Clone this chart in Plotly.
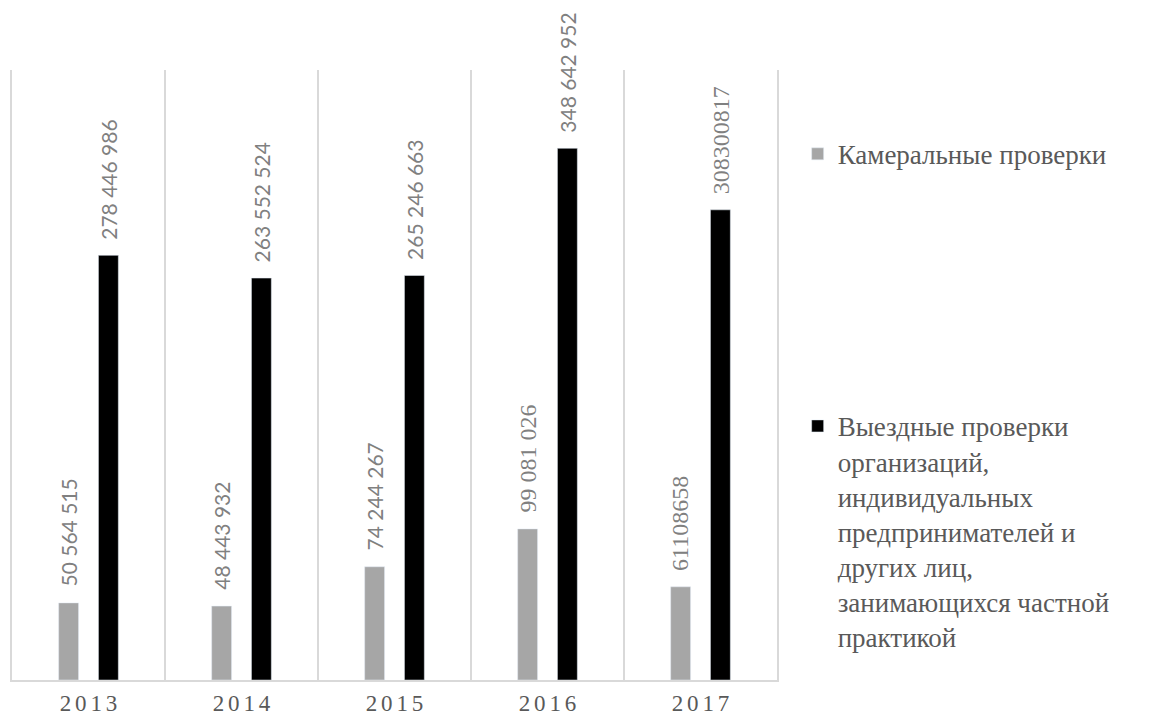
import plotly.graph_objects as go

years = ["2013", "2014", "2015", "2016", "2017"]
year_ticks = ["2\u20060\u20061\u20063", "2\u20060\u20061\u20064", "2\u20060\u20061\u20065", "2\u20060\u20061\u20066", "2\u20060\u20061\u20067"]

series1_name = "Камеральные проверки"
series1_values = [50564515, 48443932, 74244267, 99081026, 61108658]
series1_labels = ["50 564 515", "48 443 932", "74 244 267", "99 081 026", "61108658"]
series1_fonts = ["Lato", "Lato", "Lato", "Liberation Serif", "Liberation Serif"]

series2_name = ("Выездные проверки<br>организаций,<br>индивидуальных<br>предпринимателей и<br>"
                "других лиц,<br>занимающихся частной<br>практикой")
series2_values = [278446986, 263552524, 265246663, 348642952, 308300817]
series2_labels = ["278 446 986", "263 552 524", "265 246 663", "348 642 952", "308300817"]
series2_fonts = ["Lato", "Lato", "Lato", "Lato", "Liberation Serif"]

GRAY = "#A6A6A6"
BLACK = "#000000"
LABEL = "#808080"
TEXT = "#595959"
GRID = "#D9D9D9"

W = 0.13
fig = go.Figure()
fig.add_trace(go.Bar(x=years, y=series1_values, name=series1_name, marker_color=GRAY,
                     width=W, offset=-1.5 * W, legendgroup="a", hoverinfo="y"))
fig.add_trace(go.Bar(x=years, y=series2_values, name=series2_name, marker_color=BLACK,
                     width=W, offset=0.5 * W, legendgroup="b", hoverinfo="y"))

for vals, labs, fonts, dx in [(series1_values, series1_labels, series1_fonts, -W),
                              (series2_values, series2_labels, series2_fonts, W)]:
    for i, (v, t, f) in enumerate(zip(vals, labs, fonts)):
        fig.add_annotation(x=i + dx, y=v, xref="x", yref="y", text=t, showarrow=False,
                           textangle=-90, yanchor="bottom", xanchor="center", yshift=14,
                           font=dict(family=f, size=24 if f == "Liberation Serif" else 21, color=LABEL))

fig.update_layout(
    width=1154, height=712,
    margin=dict(l=4, r=385, t=62, b=40),
    paper_bgcolor="white", plot_bgcolor="white",
    barmode="overlay",
    showlegend=True,
    legend=dict(x=1.027, xanchor="left", y=0.902, yanchor="top", valign="top",
                tracegroupgap=234, traceorder="grouped",
                font=dict(family="Liberation Serif", size=27, color=TEXT),
                bgcolor="rgba(0,0,0,0)"),
    xaxis=dict(type="category", tickmode="array", tickvals=years, ticktext=year_ticks,
               tickson="boundaries", showgrid=True, gridcolor=GRID, gridwidth=1.5,
               showline=True, linecolor=GRID, linewidth=1.5, ticks="",
               ticklabelstandoff=2, automargin=False,
               tickfont=dict(family="Liberation Serif", size=23, color=TEXT),
               range=[-0.5, 4.5]),
    yaxis=dict(range=[0, 400000000], showgrid=False, showticklabels=False, zeroline=False,
               showline=True, mirror=True, linecolor=GRID, linewidth=1.5, ticks=""),
)

fig.write_html("out.html")
